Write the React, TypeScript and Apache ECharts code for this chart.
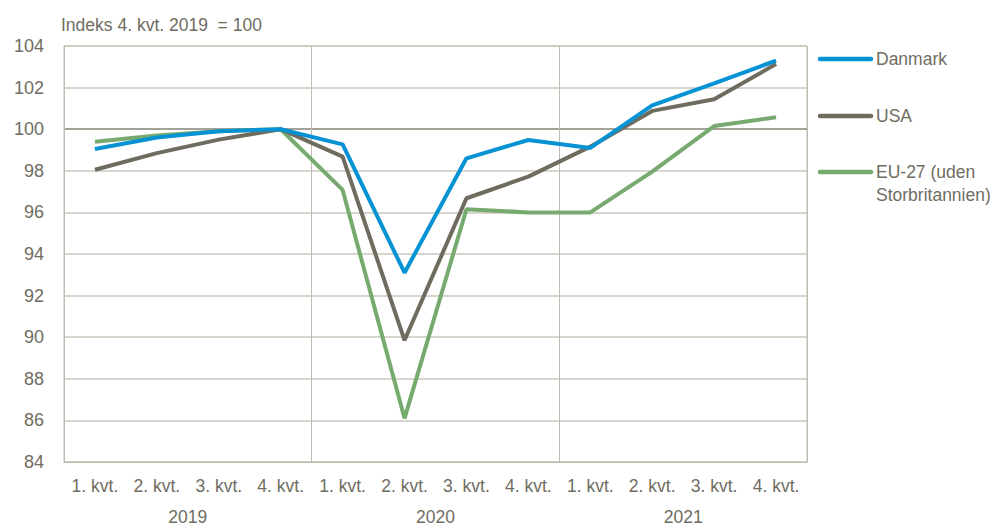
import React, { useEffect, useRef } from "react";
import * as echarts from "echarts";

const quarters = ["1. kvt.", "2. kvt.", "3. kvt.", "4. kvt.", "1. kvt.", "2. kvt.", "3. kvt.", "4. kvt.", "1. kvt.", "2. kvt.", "3. kvt.", "4. kvt."];
const years = ["2019", "2020", "2021"];
const seriesNames = ["Danmark", "USA", "EU-27 (uden\nStorbritannien)"];
const danmark = [99.05, 99.6, 99.9, 100, 99.27, 93.1, 98.6, 99.48, 99.1, 101.15, 102.2, 103.3];
const usa = [98.05, 98.85, 99.5, 100, 98.68, 89.85, 96.68, 97.72, 99.16, 100.88, 101.44, 103.13];
const eu27 = [99.4, 99.7, 99.9, 100, 97.08, 86.1, 96.15, 96.0, 96.0, 97.96, 100.15, 100.57];
const yTicks = [84, 86, 88, 90, 92, 94, 96, 98, 100, 102, 104];
const titleText = "Indeks 4. kvt. 2019  = 100";

const FONT = "'Liberation Sans', Arial, sans-serif";
const TEXT = "#6f6d61";
const GRID = "#c9c8bf";
const colors = ["#0792d4", "#6f6c5f", "#76aa6e"];

export default function App() {
  const ref = useRef<HTMLDivElement>(null);
  useEffect(() => {
    if (!ref.current) return;
    const chart = echarts.init(ref.current, undefined, { renderer: "svg" });
    const data = [danmark, usa, eu27];
    const legendY = [59, 116, 172];
    const legend: any[] = [];
    seriesNames.forEach((n, i) => {
      legend.push({
        type: "line",
        shape: { x1: 820, y1: legendY[i], x2: 871, y2: legendY[i] },
        style: { stroke: colors[i], lineWidth: 4.5, lineCap: "round" },
      });
      legend.push({
        type: "text",
        x: 876,
        y: legendY[i] - 11,
        style: { text: n, fill: TEXT, font: `17.5px ${FONT}`, lineHeight: 22.5, textVerticalAlign: "top" },
      });
    });
    chart.setOption({
      animation: false,
      title: {
        text: titleText,
        left: 56,
        top: 11,
        textStyle: { color: TEXT, fontFamily: FONT, fontSize: 17.5, fontWeight: "normal" },
      },
      grid: { left: 64, top: 46, right: 185, bottom: 67, show: true, borderColor: "#bdbcb1", borderWidth: 1 },
      xAxis: [
        {
          type: "category",
          data: quarters,
          boundaryGap: true,
          axisLine: { show: true, lineStyle: { color: "#bdbcb1" } },
          axisTick: { show: false },
          splitLine: { show: false },
          axisLabel: { color: TEXT, fontFamily: FONT, fontSize: 17.5, margin: 15, interval: 0 },
        },
        {
          type: "category",
          data: years,
          position: "bottom",
          boundaryGap: true,
          axisLine: { show: false },
          axisTick: { show: false },
          splitLine: { show: true, lineStyle: { color: "#bdbcb1", width: 1 } },
          axisLabel: { color: TEXT, fontFamily: FONT, fontSize: 17.5, margin: 46, interval: 0 },
        },
      ],
      yAxis: {
        type: "value",
        min: yTicks[0],
        max: yTicks[yTicks.length - 1],
        interval: 2,
        axisLine: { show: true, lineStyle: { color: "#bdbcb1" } },
        axisTick: { show: false },
        axisLabel: { color: TEXT, fontFamily: FONT, fontSize: 18, margin: 20 },
        splitLine: {
          show: true,
          lineStyle: {
            color: yTicks.map((t) => (t === 100 ? "#858376" : GRID)),
            width: 1.5,
          },
        },
      },
      series: data.map((d, i) => ({
        name: seriesNames[i],
        type: "line",
        data: d,
        xAxisIndex: 0,
        symbol: "none",
        lineStyle: { color: colors[i], width: 4 },
        z: 5 - i,
      })),
      graphic: legend,
    });
    return () => chart.dispose();
  }, []);
  return <div ref={ref} style={{ width: 992, height: 529, position: "absolute", left: 0, top: 0 }} />;
}
